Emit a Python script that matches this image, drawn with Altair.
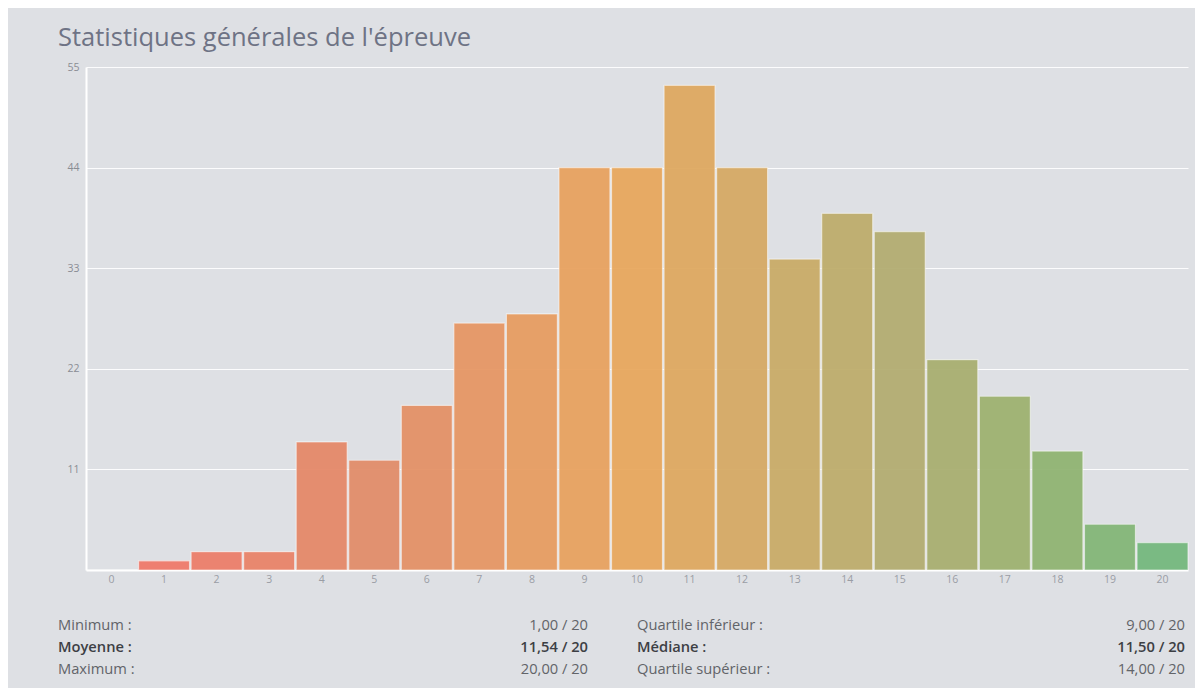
import altair as alt
import pandas as pd

# ---- data ----
scores = list(range(0, 21))
counts = [0, 1, 2, 2, 14, 12, 18, 27, 28, 44, 44, 53, 44, 34, 39, 37, 23, 19, 13, 5, 3]
y_ticks = [11, 22, 33, 44, 55]

stat_labels_left = ["Minimum :", "Moyenne :", "Maximum :"]
stat_values_left = ["1,00 / 20", "11,54 / 20", "20,00 / 20"]
stat_labels_right = ["Quartile inférieur :", "Médiane :", "Quartile supérieur :"]
stat_values_right = ["9,00 / 20", "11,50 / 20", "14,00 / 20"]
stat_bold = [False, True, False]

title_text = "Statistiques générales de l'épreuve"

FONT = "Open Sans"
BG = "#dee0e4"

df = pd.DataFrame({"note": scores, "effectif": counts})

bars = alt.Chart(df).mark_bar(
    stroke="white", strokeOpacity=0.55, strokeWidth=1.2, opacity=0.95
).encode(
    x=alt.X(
        "note:O",
        sort=scores,
        scale=alt.Scale(paddingInner=0.03, paddingOuter=0),
        axis=alt.Axis(
            title=None, labelAngle=0, labelFontSize=10.5, labelColor="#9a9da4",
            labelFont=FONT, ticks=False, domainColor="white", domainWidth=2,
            labelPadding=4, grid=False,
        ),
    ),
    y=alt.Y(
        "effectif:Q",
        scale=alt.Scale(domain=[0, 55], nice=False),
        axis=alt.Axis(
            title=None, values=y_ticks, labelFontSize=10.5, labelColor="#8a8d94",
            labelFont=FONT, ticks=False, domainColor="white", domainWidth=2,
            gridColor="white", gridWidth=1, gridOpacity=0.9, labelPadding=7,
        ),
    ),
    color=alt.Color(
        "note:Q",
        scale=alt.Scale(
            domain=[1, 5, 10, 12, 15, 20],
            range=["#ef7a6b", "#e28d6a", "#e8a85e", "#d6aa65", "#b3ad72", "#75b87e"],
        ),
        legend=None,
    ),
)

layers = [bars]
row_y = [559, 581, 603]
for i in range(3):
    weight = 600 if stat_bold[i] else "normal"
    col = "#3d3f44" if stat_bold[i] else "#626469"
    items = [
        (stat_labels_left[i], -28, "left"),
        (stat_values_left[i], 502, "right"),
        (stat_labels_right[i], 551, "left"),
        (stat_values_right[i], 1099, "right"),
    ]
    for txt, xpos, al in items:
        layers.append(
            alt.Chart(pd.DataFrame({"t": [txt]})).mark_text(
                align=al, baseline="middle", fontSize=14.7, font=FONT,
                fontWeight=weight, color=col,
            ).encode(text="t:N", x=alt.value(xpos), y=alt.value(row_y[i]))
        )

chart = alt.layer(*layers).properties(
    width=1102,
    height=503,
    background=BG,
    padding={"left": 78, "top": 59, "right": 7, "bottom": 118},
    autosize=alt.AutoSizeParams(type="none"),
    title=alt.TitleParams(
        text=title_text, anchor="start", frame="group", dx=-28, offset=11,
        fontSize=25.5, font=FONT, fontWeight="normal", color="#6e7385",
    ),
).configure_view(stroke=None)

chart.save("out.html", embed_options={"renderer": "svg", "actions": False})
